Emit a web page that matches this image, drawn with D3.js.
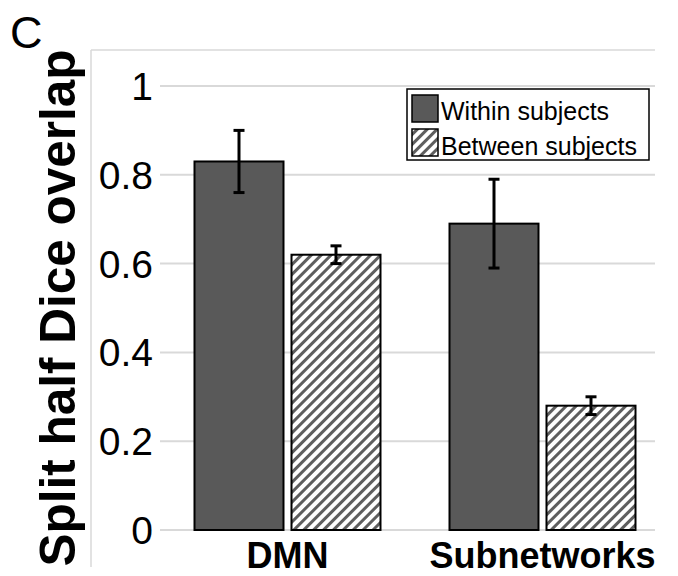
<!DOCTYPE html>
<html>
<head>
<meta charset="utf-8">
<script src="https://cdn.jsdelivr.net/npm/d3@7"></script>
<style>
  html, body { margin: 0; padding: 0; background: #fff; }
  svg { display: block; }
  text { font-family: "Liberation Sans", Arial, Helvetica, sans-serif; }
</style>
</head>
<body>
<svg id="chart" width="678" height="576"></svg>
<script>
// ---- data ----
const categories = ["DMN", "Subnetworks"];
const seriesNames = ["Within subjects", "Between subjects"];
const withinValues = [0.83, 0.69];
const withinErrors = [0.07, 0.10];
const betweenValues = [0.62, 0.28];
const betweenErrors = [0.02, 0.02];
const yTicks = [0, 0.2, 0.4, 0.6, 0.8, 1];
const yTickLabels = ["0", "0.2", "0.4", "0.6", "0.8", "1"];
const yTitle = "Split half Dice overlap";
const panelLabel = "C";

// ---- layout ----
const svg = d3.select("#chart");
const y = d3.scaleLinear().domain([0, 1]).range([530, 86]);
const x = d3.scaleBand().domain(categories).range([160, 670]).paddingInner(0).paddingOuter(0);
const xs = d3.scaleBand().domain(seriesNames).range([0, x.bandwidth()])
  .paddingInner(8 / 97).paddingOuter(0.3557);
const gridLeft = 160, gridRight = 655;

const rows = categories.map((c, i) => ([
  { cat: c, series: seriesNames[0], v: withinValues[i], e: withinErrors[i] },
  { cat: c, series: seriesNames[1], v: betweenValues[i], e: betweenErrors[i] }
])).flat();

// pattern
const defs = svg.append("defs");
const pat = defs.append("pattern")
  .attr("id", "hatch").attr("patternUnits", "userSpaceOnUse")
  .attr("width", 7).attr("height", 7)
  .attr("patternTransform", "rotate(45)");
pat.append("rect").attr("width", 7).attr("height", 7).attr("fill", "#fff");
pat.append("rect").attr("width", 3).attr("height", 7).attr("fill", "#5e5e5e");

const fillFor = s => s === seriesNames[0] ? "#595959" : "url(#hatch)";

// chart-area border (top + left)
svg.append("line").attr("x1", 91).attr("x2", gridRight).attr("y1", 50).attr("y2", 50)
  .attr("stroke", "#d9d9d9").attr("stroke-width", 1.5);
svg.append("line").attr("x1", 91).attr("x2", 91).attr("y1", 50).attr("y2", 567)
  .attr("stroke", "#d9d9d9").attr("stroke-width", 1.5);

// gridlines
svg.append("g").selectAll("line").data(yTicks).join("line")
  .attr("x1", gridLeft).attr("x2", gridRight)
  .attr("y1", d => y(d)).attr("y2", d => y(d))
  .attr("stroke", "#d9d9d9").attr("stroke-width", 2);

// y tick labels
svg.append("g").selectAll("text").data(yTicks).join("text")
  .attr("x", 153).attr("y", d => y(d)).attr("dy", "0.36em")
  .attr("text-anchor", "end").attr("font-size", 39).attr("fill", "#000")
  .text((d, i) => yTickLabels[i]);

// bars
svg.append("g").selectAll("rect").data(rows).join("rect")
  .attr("x", d => x(d.cat) + xs(d.series))
  .attr("y", d => y(d.v))
  .attr("width", xs.bandwidth())
  .attr("height", d => y(0) - y(d.v))
  .attr("fill", d => fillFor(d.series))
  .attr("stroke", "#000").attr("stroke-width", 2);

// error bars
const eb = svg.append("g").attr("stroke", "#000").attr("stroke-width", 3);
rows.forEach(d => {
  const cx = x(d.cat) + xs(d.series) + xs.bandwidth() / 2;
  eb.append("line").attr("x1", cx).attr("x2", cx).attr("y1", y(d.v + d.e)).attr("y2", y(d.v - d.e));
  eb.append("line").attr("x1", cx - 5.5).attr("x2", cx + 5.5).attr("y1", y(d.v + d.e)).attr("y2", y(d.v + d.e));
  eb.append("line").attr("x1", cx - 5.5).attr("x2", cx + 5.5).attr("y1", y(d.v - d.e)).attr("y2", y(d.v - d.e));
});

// x category labels
svg.append("g").selectAll("text").data(categories).join("text")
  .attr("x", d => x(d) + x.bandwidth() / 2)
  .attr("y", 568)
  .attr("text-anchor", "middle").attr("font-size", 36).attr("font-weight", "bold")
  .text(d => d);

// y title
svg.append("text")
  .attr("transform", "translate(75,308) rotate(-90)")
  .attr("text-anchor", "middle").attr("font-size", 49.5).attr("font-weight", "bold")
  .text(yTitle);

// panel label
svg.append("text").attr("x", 10).attr("y", 48).attr("font-size", 45).text(panelLabel);

// legend
const lg = svg.append("g");
lg.append("rect").attr("x", 407).attr("y", 89).attr("width", 242).attr("height", 71)
  .attr("fill", "#fff").attr("stroke", "#000").attr("stroke-width", 1.5);
seriesNames.forEach((s, i) => {
  lg.append("rect").attr("x", 412).attr("y", 95 + i * 34).attr("width", 26).attr("height", 27)
    .attr("fill", fillFor(s)).attr("stroke", "#000").attr("stroke-width", 1.5);
  lg.append("text").attr("x", 441).attr("y", 120 + i * 35).attr("font-size", 25).text(s);
});
</script>
</body>
</html>
